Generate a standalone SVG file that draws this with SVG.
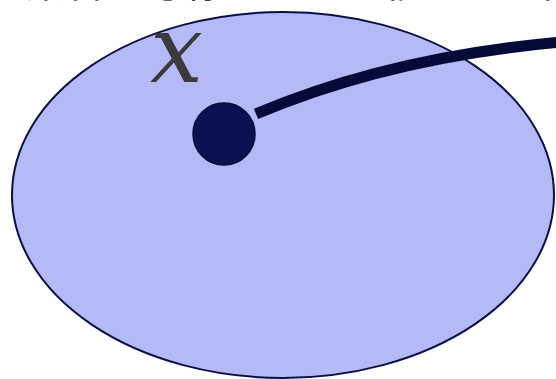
<svg xmlns="http://www.w3.org/2000/svg" width="556" height="379" viewBox="0 0 556 379">
  <style>
    .title { font-family: "Noto Sans CJK JP", "Noto Sans", sans-serif; font-size: 40px; fill: #404040; }
    .var { font-family: "DejaVu Serif", serif; font-style: italic; font-size: 94px; fill: #3a3a3a; }
    .set { fill: #b3baf6; stroke: #0a0f45; stroke-width: 2; }
    .point { fill: #0a1150; stroke: #070b3a; stroke-width: 1.5; }
    .map { fill: none; stroke: #060a38; stroke-width: 11; }
  </style>
  <text class="title" x="-14" y="-3">の集合が写像によって移される画像</text>
  <g id="set-X">
    <ellipse class="set" cx="283" cy="195" rx="271" ry="183"/>
  </g>
  <g id="connectors">
    <path class="map" d="M256,114 Q390,57 562,42"/>
  </g>
  <g id="point-x">
    <circle class="point" cx="224" cy="134" r="31"/>
    <text class="var" x="150" y="82">x</text>
  </g>
</svg>
